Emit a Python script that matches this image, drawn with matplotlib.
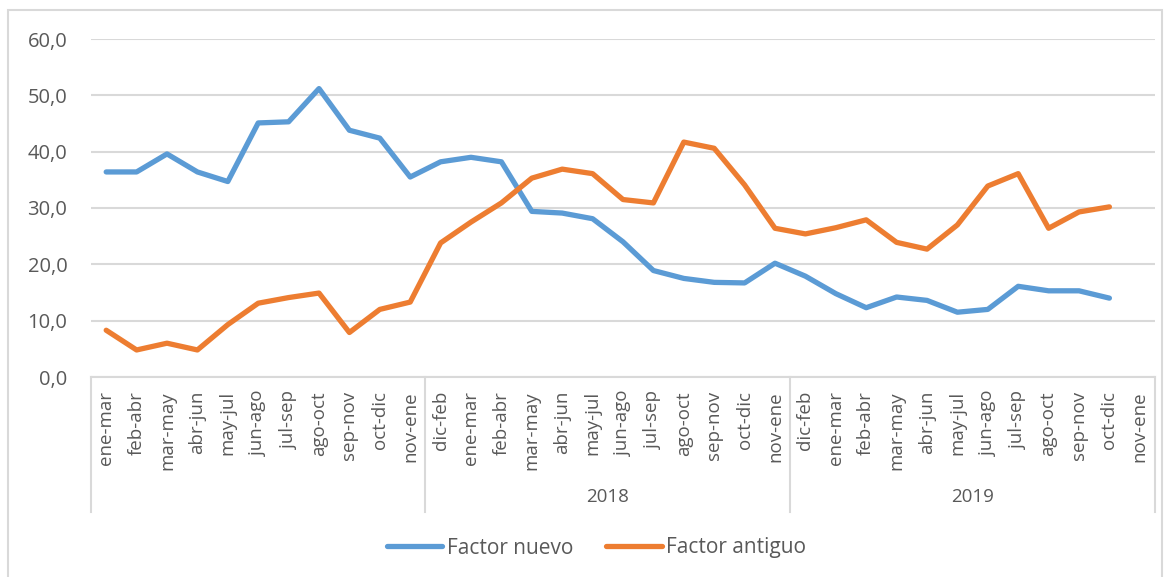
import numpy as np
import matplotlib
matplotlib.use('Agg')
import matplotlib.pyplot as plt
import matplotlib.transforms as mtransforms

# Data
months = ['ene-mar', 'feb-abr', 'mar-may', 'abr-jun', 'may-jul', 'jun-ago',
          'jul-sep', 'ago-oct', 'sep-nov', 'oct-dic', 'nov-ene']
years = ['', '2018', '2019']
group_labels = [months, ['dic-feb'] + months, ['dic-feb'] + months]

factor_nuevo = [36.4, 36.4, 39.6, 36.4, 34.7, 45.1, 45.3, 51.2, 43.8, 42.4, 35.5,
                38.2, 39.0, 38.2, 29.4, 29.1, 28.1, 24.0, 18.9, 17.5, 16.8, 16.7, 20.2,
                17.9, 14.8, 12.3, 14.2, 13.6, 11.5, 12.0, 16.1, 15.3, 15.3, 14.0, np.nan]
factor_antiguo = [8.3, 4.8, 6.0, 4.8, 9.3, 13.1, 14.1, 14.9, 7.9, 12.0, 13.3,
                  23.8, 27.5, 30.9, 35.3, 36.9, 36.1, 31.5, 30.9, 41.7, 40.6, 34.1, 26.4,
                  25.4, 26.5, 27.9, 23.9, 22.7, 27.0, 33.9, 36.1, 26.4, 29.3, 30.2, np.nan]

plt.rcParams['font.family'] = ['Open Sans', 'DejaVu Sans']
text_color = '#595959'
grid_color = '#d9d9d9'

fig = plt.figure(figsize=(11.67, 5.77), dpi=100)
ax = fig.add_axes([91 / 1167, 1 - 377 / 577, 1064 / 1167, 338 / 577])

x = np.arange(len(factor_nuevo))
ax.plot(x, factor_nuevo, color='#5B9BD5', lw=3.8, solid_capstyle='round',
        solid_joinstyle='round', label='Factor nuevo')
ax.plot(x, factor_antiguo, color='#ED7D31', lw=3.8, solid_capstyle='round',
        solid_joinstyle='round', label='Factor antiguo')

ax.set_xlim(-0.5, len(x) - 0.5)
ax.set_ylim(0, 60)
ax.set_yticks(np.arange(0, 61, 10))
ax.set_yticklabels([f'{v:.1f}'.replace('.', ',') for v in np.arange(0, 61, 10)])
ax.yaxis.grid(True, color=grid_color, lw=1.5)
ax.set_axisbelow(True)
for s in ['top', 'right', 'left']:
    ax.spines[s].set_visible(False)
ax.spines['bottom'].set_color(grid_color)
ax.spines['bottom'].set_linewidth(1.5)
ax.tick_params(axis='y', length=0, pad=17, labelsize=14.5, labelcolor=text_color)

all_labels = [m for g in group_labels for m in g]
ax.set_xticks(x)
ax.set_xticklabels(all_labels, rotation=90, va='top')
ax.tick_params(axis='x', length=0, pad=10, labelsize=13.5, labelcolor=text_color)

# multi-level category axis: separators and year labels
trans = mtransforms.blended_transform_factory(ax.transData, ax.transAxes)
edges = np.concatenate([[0], np.cumsum([len(g) for g in group_labels])]) - 0.5
for e in edges:
    ax.plot([e, e], [0, -0.4], transform=trans, color=grid_color, lw=1.5, clip_on=False)
for i, yr in enumerate(years):
    if yr:
        ax.text((edges[i] + edges[i + 1]) / 2, -0.355, yr, transform=trans,
                ha='center', va='center', fontsize=13.5, color=text_color)

fig.legend(loc='center', bbox_to_anchor=(0.5 + 13 / 1167, 1 - 548 / 577), ncol=2,
           frameon=False, fontsize=15, handlelength=2.65, columnspacing=1.6,
           handletextpad=0.2, labelcolor=text_color)

# chart frame
fig.patches.append(plt.Rectangle((8 / 1167, -0.05), 1154 / 1167, 1 - 10 / 577 + 0.05,
                                 transform=fig.transFigure, fill=False,
                                 edgecolor=grid_color, lw=1.5))

fig.savefig('out.png', dpi=100)
